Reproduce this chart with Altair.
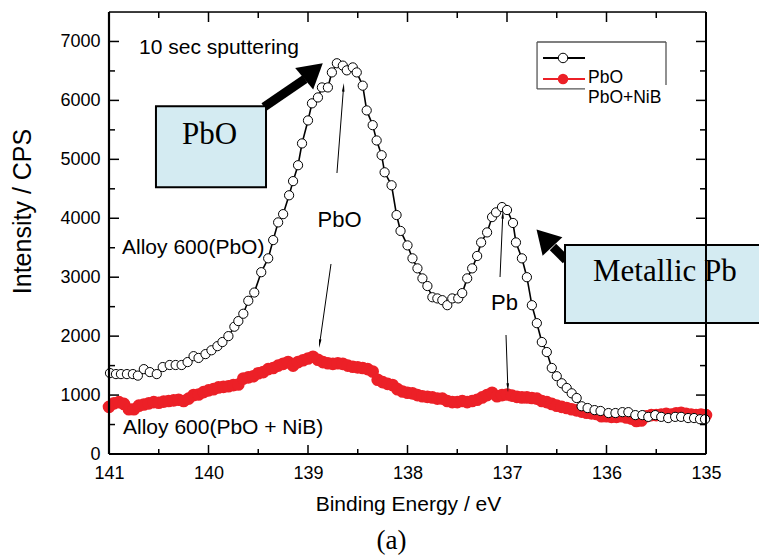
import altair as alt
import pandas as pd

SANS = "Liberation Sans, Arial"
SERIF = "Liberation Serif, Times New Roman, serif"
RED = "#ec2027"
BOXFILL = "#d4ebf2"

# ---------------- data ----------------
pbo_E = [140.99, 140.93, 140.88, 140.82, 140.76, 140.71, 140.65, 140.59, 140.52, 140.46,
         140.39, 140.33, 140.27, 140.21, 140.15, 140.10, 140.03, 139.97, 139.91, 139.86,
         139.80, 139.74, 139.70, 139.65, 139.60, 139.54, 139.47, 139.40, 139.35, 139.30,
         139.25, 139.19, 139.15, 139.10, 139.06, 139.00, 138.96, 138.90, 138.86, 138.80,
         138.76, 138.71, 138.65, 138.61, 138.55, 138.51, 138.45, 138.41, 138.35, 138.31,
         138.26, 138.23, 138.16, 138.11, 138.07, 138.00, 137.95, 137.90, 137.85, 137.80,
         137.75, 137.70, 137.65, 137.60, 137.55, 137.49, 137.45, 137.40, 137.35, 137.30,
         137.26, 137.20, 137.15, 137.11, 137.05, 137.00, 136.94, 136.91, 136.85, 136.80,
         136.75, 136.70, 136.65, 136.60, 136.55, 136.50, 136.45, 136.40, 136.35, 136.30,
         136.25, 136.19, 136.12, 136.06, 135.98, 135.91, 135.84, 135.78, 135.71, 135.64,
         135.58, 135.51, 135.45, 135.38, 135.31, 135.25, 135.18, 135.12, 135.06, 135.01]
pbo_I = [1373, 1356, 1356, 1356, 1356, 1330, 1440, 1390, 1356, 1475,
         1510, 1510, 1510, 1560, 1660, 1630, 1695, 1760, 1830, 1900,
         2000, 2160, 2255, 2380, 2600, 2740, 3085, 3320, 3630, 3930,
         4070, 4390, 4630, 4900, 5270, 5660, 5950, 6050, 6220, 6220,
         6475, 6630, 6590, 6510, 6560, 6475, 6250, 5830, 5580, 5320,
         5070, 4780, 4560, 4055, 3785, 3540, 3320, 3150, 2980, 2850,
         2660, 2640, 2610, 2525, 2640, 2640, 2730, 2980, 3150, 3360,
         3590, 3760, 4020, 4100, 4190, 4140, 3920, 3590, 3320, 3000,
         2525, 2220, 1900, 1730, 1460, 1320, 1200, 1120, 1030, 950,
         810, 780, 745, 730, 695, 695, 710, 710, 660, 660,
         630, 660, 630, 610, 630, 630, 610, 610, 590, 590]

nib_E = [round(141 - 0.05 * i, 2) for i in range(121)]
nib_I = [800, 860, 880, 850, 760, 760, 820, 840, 860, 880,
         870, 890, 900, 910, 920, 900, 940, 1000, 1010, 1050,
         1080, 1100, 1130, 1140, 1150, 1170, 1180, 1280, 1300, 1320,
         1370, 1390, 1440, 1460, 1500, 1530, 1560, 1500, 1560, 1590,
         1620, 1650, 1600, 1560, 1540, 1530, 1540, 1530, 1500, 1480,
         1470, 1460, 1440, 1400, 1260, 1220, 1190, 1170, 1100, 1060,
         1040, 1030, 1000, 980, 970, 960, 940, 940, 900, 880,
         880, 900, 880, 900, 920, 960, 1000, 1040, 980, 1000,
         1010, 990, 970, 960, 960, 950, 940, 900, 880, 850,
         820, 800, 780, 760, 740, 720, 700, 690, 680, 640,
         640, 630, 630, 640, 620, 600, 560, 570, 640, 660,
         660, 670, 680, 670, 690, 700, 680, 670, 660, 670,
         660]

x_labels = [141, 140, 139, 138, 137, 136, 135]
x_minor = [140.5, 139.5, 138.5, 137.5, 136.5, 135.5]
y_labels = [0, 1000, 2000, 3000, 4000, 5000, 6000, 7000]
y_minor = [500, 1500, 2500, 3500, 4500, 5500, 6500]
X_MIN, X_MAX, Y_MIN, Y_MAX = 135, 141, 0, 7500

# ---------------- scales & axes ----------------
xs = alt.Scale(domain=[X_MIN, X_MAX], reverse=True, nice=False, zero=False)
ys = alt.Scale(domain=[Y_MIN, Y_MAX], nice=False, zero=False)

x_axis = alt.Axis(values=x_labels, format="d", title="Binding Energy / eV",
                  titleX=299, titleY=50, titleBaseline="middle", titleAlign="center",
                  titleFont=SANS, titleFontSize=21, titleFontWeight="normal",
                  labelFont=SANS, labelFontSize=18, labelPadding=10, labelFlush=False,
                  ticks=False, tickSize=0, domain=False, grid=False, labelColor="black",
                  titleColor="black")
y_axis = alt.Axis(values=y_labels, format="d", title="Intensity / CPS",
                  titleX=-87, titleY=199, titleAngle=270, titleBaseline="middle",
                  titleAlign="center", titleFont=SANS, titleFontSize=25,
                  titleFontWeight="normal", labelFont=SANS, labelFontSize=18,
                  labelPadding=9, ticks=False, tickSize=0, domain=False, grid=False,
                  labelColor="black", titleColor="black")


def X(f="x"):
    return alt.X(f, type="quantitative", scale=xs, axis=x_axis)


def Y(f="y"):
    return alt.Y(f, type="quantitative", scale=ys, axis=y_axis)


def X2(f="x2"):
    return alt.X2(f)


def Y2(f="y2"):
    return alt.Y2(f)


df_pbo = pd.DataFrame({"x": pbo_E, "y": pbo_I})
df_nib = pd.DataFrame({"x": nib_E, "y": nib_I})

layers = []

# red series (PbO + NiB)
layers.append(alt.Chart(df_nib).mark_line(color=RED, strokeWidth=5).encode(x=X(), y=Y()))
layers.append(alt.Chart(df_nib).mark_point(filled=True, color=RED, size=160, opacity=1).encode(
    x=X(), y=Y()))

# open circle series (PbO)
layers.append(alt.Chart(df_pbo).mark_line(color="black", strokeWidth=1.6).encode(x=X(), y=Y()))
layers.append(alt.Chart(df_pbo).mark_point(filled=False, fill="white", fillOpacity=1,
                                           stroke="black", strokeWidth=1, size=85,
                                           opacity=1).encode(x=X(), y=Y()))

# ---------------- tick marks (inward) ----------------
px_x = (X_MAX - X_MIN) / 597.0
px_y = (Y_MAX - Y_MIN) / 442.0
tick_rows = []
for v in x_labels:
    tick_rows.append(dict(x=v, x2=v, y=Y_MIN, y2=Y_MIN + 9 * px_y))
    tick_rows.append(dict(x=v, x2=v, y=Y_MAX, y2=Y_MAX - 10 * px_y))
for v in x_minor:
    tick_rows.append(dict(x=v, x2=v, y=Y_MIN, y2=Y_MIN + 5 * px_y))
    tick_rows.append(dict(x=v, x2=v, y=Y_MAX, y2=Y_MAX - 6 * px_y))
for v in y_labels:
    tick_rows.append(dict(x=X_MAX, x2=X_MAX - 10 * px_x, y=v, y2=v))
    tick_rows.append(dict(x=X_MIN, x2=X_MIN + 10 * px_x, y=v, y2=v))
for v in y_minor:
    tick_rows.append(dict(x=X_MAX, x2=X_MAX - 6 * px_x, y=v, y2=v))
    tick_rows.append(dict(x=X_MIN, x2=X_MIN + 6 * px_x, y=v, y2=v))
layers.append(alt.Chart(pd.DataFrame(tick_rows)).mark_rule(color="black", strokeWidth=1.5).encode(
    x=X(), x2=X2(), y=Y(), y2=Y2()))

# ---------------- thin arrows ----------------
thin = pd.DataFrame({
    "x": [138.709, 138.769, 137.070, 137.010],
    "y": [4768, 3224, 3003, 2019],
    "x2": [138.644, 138.881, 137.043, 136.992],
    "y2": [6197, 1896, 4042, 1151],
    "ang": [4, 188, 3, 178],
})
layers.append(alt.Chart(thin).mark_rule(color="black", strokeWidth=1).encode(
    x=X(), x2=X2(), y=Y(), y2=Y2()))
layers.append(alt.Chart(thin).mark_point(shape="wedge", filled=True, color="black", size=100,
                                         opacity=1).encode(
    x=X("x2"), y=Y("y2"), angle=alt.Angle("ang", type="quantitative", scale=None)))

# ---------------- thick arrows ----------------
thick = pd.DataFrame({
    "x": [139.442, 136.407], "y": [5889, 3292],
    "x2": [139.030, 136.538], "y2": [6364, 3513],
})
heads = pd.DataFrame({
    "x": [138.945, 136.623], "y": [6500, 3665], "ang": [50, 317], "s": [784, 730],
})
layers.append(alt.Chart(thick).mark_rule(color="black", strokeWidth=9).encode(
    x=X(), x2=X2(), y=Y(), y2=Y2()))
layers.append(alt.Chart(heads).mark_point(shape="triangle-up", filled=True, color="black",
                                          opacity=1).encode(
    x=X(), y=Y(), angle=alt.Angle("ang", type="quantitative", scale=None),
    size=alt.Size("s", type="quantitative", scale=None)))

# ---------------- boxes ----------------
boxes = pd.DataFrame({
    "x": [140.528, 136.417], "x2": [139.422, 134.20],
    "y": [5899, 3547], "y2": [4526, 2223],
})
layers.append(alt.Chart(boxes).mark_rect(fill=BOXFILL, stroke="black", strokeWidth=2).encode(
    x=X(), x2=X2(), y=Y(), y2=Y2()))
layers.append(alt.Chart(pd.DataFrame({"x": [139.99], "y": [5407], "t": ["PbO"]})).mark_text(
    font=SERIF, fontSize=31, align="center", baseline="middle", color="black").encode(
    x=X(), y=Y(), text="t:N"))
layers.append(alt.Chart(pd.DataFrame({"x": [136.136], "y": [3089], "t": ["Metallic Pb"]})).mark_text(
    font=SERIF, fontSize=31, align="left", baseline="middle", color="black").encode(
    x=X(), y=Y(), text="t:N"))

# ---------------- annotation texts ----------------
ann = pd.DataFrame({
    "x": [140.698, 140.869, 140.859],
    "y": [6890, 3496, 441],
    "t": ["10 sec sputtering", "Alloy 600(PbO)", "Alloy 600(PbO + NiB)"],
})
layers.append(alt.Chart(ann).mark_text(font=SANS, fontSize=21, align="left", baseline="middle",
                                       color="black").encode(x=X(), y=Y(), text="t:N"))
ann_c = pd.DataFrame({"x": [138.683, 137.025], "y": [3971, 2562], "t": ["PbO", "Pb"]})
layers.append(alt.Chart(ann_c).mark_text(font=SANS, fontSize=22, align="center",
                                         baseline="middle", color="black").encode(
    x=X(), y=Y(), text="t:N"))
layers.append(alt.Chart(pd.DataFrame({"x": [138.16], "y": [-1476], "t": ["(a)"]})).mark_text(
    font=SERIF, fontSize=27, align="center", baseline="middle", color="black").encode(
    x=X(), y=Y(), text="t:N"))

# ---------------- legend ----------------
leg_frame = pd.DataFrame({
    "x": [136.698, 136.698, 135.402, 136.698],
    "x2": [135.402, 136.698, 135.402, 136.216],
    "y": [6991, 6991, 6991, 6194],
    "y2": [6991, 6194, 6262, 6194],
})
layers.append(alt.Chart(leg_frame).mark_rule(color="#555555", strokeWidth=1.3).encode(
    x=X(), x2=X2(), y=Y(), y2=Y2()))
leg_lines = pd.DataFrame({"x": [136.638, 136.638], "x2": [136.216, 136.216],
                          "y": [6720, 6364], "y2": [6720, 6364], "c": ["black", RED]})
layers.append(alt.Chart(leg_lines).mark_rule(strokeWidth=2).encode(
    x=X(), x2=X2(), y=Y(), y2=Y2(), color=alt.Color("c:N", scale=None)))
layers.append(alt.Chart(pd.DataFrame({"x": [136.437], "y": [6720]})).mark_point(
    filled=False, fill="white", fillOpacity=1, stroke="black", strokeWidth=1, size=90,
    opacity=1).encode(x=X(), y=Y()))
layers.append(alt.Chart(pd.DataFrame({"x": [136.437], "y": [6364]})).mark_point(
    filled=True, color=RED, size=110, opacity=1).encode(x=X(), y=Y()))
leg_txt = pd.DataFrame({"x": [136.186, 136.186], "y": [6380, 6041], "t": ["PbO", "PbO+NiB"]})
layers.append(alt.Chart(leg_txt).mark_text(font=SANS, fontSize=17.5, align="left",
                                           baseline="middle", color="black").encode(
    x=X(), y=Y(), text="t:N"))

# ---------------- frame (drawn last) ----------------
frame = pd.DataFrame({
    "x": [X_MAX, X_MAX, X_MAX, X_MIN], "x2": [X_MIN, X_MIN, X_MAX, X_MIN],
    "y": [Y_MIN, Y_MAX, Y_MIN, Y_MIN], "y2": [Y_MIN, Y_MAX, Y_MAX, Y_MAX],
    "w": [2.2, 1.6, 2.2, 2.0],
})
layers.append(alt.Chart(frame).mark_rule(color="black").encode(
    x=X(), x2=X2(), y=Y(), y2=Y2(), strokeWidth=alt.StrokeWidth("w:Q", scale=None)))

chart = alt.layer(*layers).properties(
    width=597, height=442,
    autosize=alt.AutoSizeParams(type="none"),
    padding={"left": 101, "top": 4, "right": 53, "bottom": 105},
).configure_view(stroke=None).configure(background="white")

chart.save("out.html", embed_options={"renderer": "svg", "actions": False})
